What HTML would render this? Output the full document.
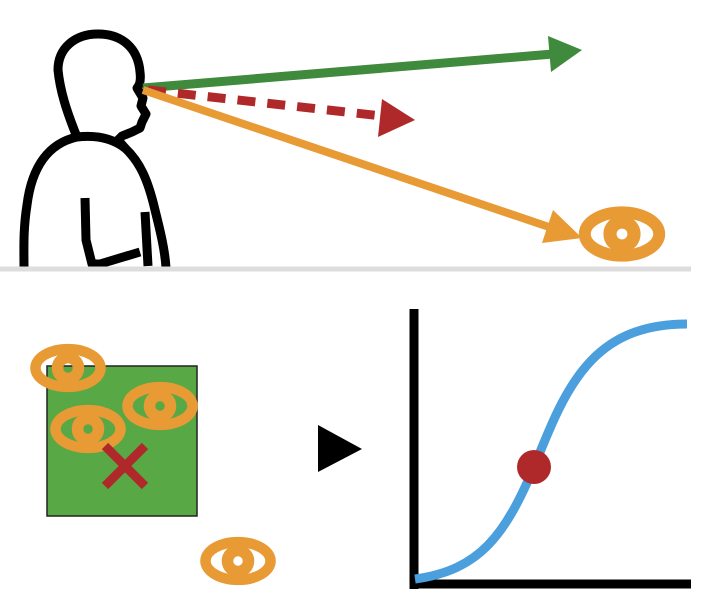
<!DOCTYPE html>
<html><head><meta charset="utf-8"><style>html,body{margin:0;padding:0;background:#fff}svg{display:block}</style></head>
<body>
<svg width="722" height="612" viewBox="0 0 722 612" xmlns="http://www.w3.org/2000/svg">
<defs>
<g id="eye">
<ellipse cx="0" cy="0" rx="31" ry="18" fill="none" stroke="#e89a35" stroke-width="10"/>
<circle cx="0" cy="0" r="10" fill="none" stroke="#e89a35" stroke-width="11"/>
</g>
</defs>
<!-- person -->
<path d="M77,137 C66,110 60,90 58,70 C58,48 75,34 98,34 C122,34 138,48 140,72 C141,80 140,85 137,88 L143,98 L141,106 L146,114 L142,122 L140,128 L132,132 L122,136 L118,140 L125,148" fill="none" stroke="#000" stroke-width="9" stroke-linejoin="round" stroke-linecap="round"/>
<path d="M77,137 C50,143 32,165 27,205 C23,230 24,250 24,268" fill="none" stroke="#000" stroke-width="9"/>
<path d="M77,137 C95,135 112,138 125,148 C140,162 148,180 155,210 C160,230 165,250 166,268" fill="none" stroke="#000" stroke-width="9"/>
<path d="M85,198 L86,240 L92,264 L100,264 L140,252" fill="none" stroke="#000" stroke-width="9" stroke-linejoin="round"/>
<path d="M145,212 L148,266" fill="none" stroke="#000" stroke-width="9"/>
<!-- ground -->
<line x1="0" y1="269" x2="691" y2="269" stroke="#dddddd" stroke-width="5"/>
<!-- arrows -->
<line x1="143" y1="88" x2="553" y2="54" stroke="#3f8a3c" stroke-width="9"/>
<polygon points="582,50 548,36 551,72" fill="#3f8a3c"/>
<line x1="148" y1="90" x2="382" y2="116" stroke="#b0292a" stroke-width="9" stroke-dasharray="18,12"/>
<polygon points="415,120 382,99 378,137" fill="#b0292a"/>
<line x1="143" y1="90" x2="552" y2="228" stroke="#e89a35" stroke-width="8"/>
<polygon points="582,238 553,210 542,243" fill="#e89a35"/>
<g transform="translate(622,234) scale(1.2)"><use href="#eye"/></g>
<!-- bottom left -->
<rect x="47" y="366" width="150" height="150" fill="#58a845" stroke="#222" stroke-width="1.5"/>
<g transform="translate(68,368) scale(1.05)"><use href="#eye"/></g>
<g transform="translate(160,406) scale(1.05)"><use href="#eye"/></g>
<g transform="translate(88,429) scale(1.05)"><use href="#eye"/></g>
<g transform="translate(238,561) scale(1.05)"><use href="#eye"/></g>
<path d="M105,446 L145,486 M145,446 L105,486" stroke="#b0292a" stroke-width="9"/>
<polygon points="318,425 318,472 362,449" fill="#000"/>
<!-- chart -->
<line x1="414" y1="309" x2="414" y2="589" stroke="#000" stroke-width="9"/>
<line x1="410" y1="584" x2="691" y2="584" stroke="#000" stroke-width="9"/>
<path d="M415,579 C480,570 505,535 534,467 C565,390 590,324 687,324" fill="none" stroke="#4a9fdc" stroke-width="9"/>
<circle cx="534" cy="467" r="17" fill="#b0292a"/>
</svg>
</body></html>
